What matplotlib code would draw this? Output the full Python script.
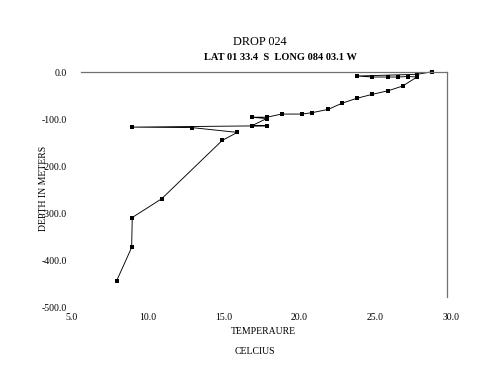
import matplotlib
matplotlib.use("Agg")
import matplotlib.pyplot as plt

# Temperature (deg C) and depth (m) readings, in drop order
temps = [29.0, 27.97, 23.85, 24.9, 25.97, 26.65, 27.33, 27.95, 26.97, 25.99,
         24.9, 23.83, 22.81, 21.89, 20.76, 20.08, 18.71, 17.68, 16.66, 17.68,
         16.66, 17.68, 8.46, 12.56, 15.68, 14.65, 10.51, 8.50, 8.46, 7.44]
depths = [0, -5.8, -9.6, -11.8, -11.8, -11.8, -10.7, -11.8, -31.8, -42.2,
          -50.2, -59.1, -70.2, -83.6, -91.1, -94, -94, -101, -101, -104,
          -120, -120, -123, -124, -134.7, -152.4, -282, -323.6, -390, -463.6]

x_ticks = [5, 10, 15, 20, 25, 30]
y_ticks = [0, -100, -200, -300, -400, -500]
x_tick_labels = ["5.0", "10.0", "15.0", "20.0", "25.0", "30.0"]
y_tick_labels = ["0.0", "-100.0", "-200.0", "-300.0", "-400.0", "-500.0"]

title = "DROP 024"
subtitle = "LAT 01 33.4  S  LONG 084 03.1 W"
xlabel1 = "TEMPERAURE"
xlabel2 = "CELCIUS"
ylabel = "DEPTH IN METERS"

plt.rcParams['font.family'] = ['Liberation Serif', 'DejaVu Serif']

W, H = 500, 386
fig = plt.figure(figsize=(W / 100, H / 100), dpi=100)

def rect(x0, y0, x1, y1):
    return [x0 / W, 1 - y1 / H, (x1 - x0) / W, (y1 - y0) / H]

# Axes holding tick labels (placed where the reference draws them)
lab = fig.add_axes(rect(71.5, 72.5, 451, 307.5))
lab.set_xlim(5, 30)
lab.set_ylim(-500, 0)
lab.set_xticks(x_ticks)
lab.set_xticklabels(x_tick_labels)
lab.set_yticks(y_ticks)
lab.set_yticklabels(y_tick_labels)
lab.tick_params(length=0, labelsize=7, pad=3.3)
lab.tick_params(axis='x', pad=4.0)
for s in lab.spines.values():
    s.set_visible(False)
lab.patch.set_alpha(0)

# Data axes
ax = fig.add_axes(rect(81, 71.7, 447, 297))
ax.set_xlim(5, 30)
ax.set_ylim(-500, 0)
ax.set_xticks([])
ax.set_yticks([])
ax.spines['left'].set_visible(False)
ax.spines['bottom'].set_visible(False)
for side in ('top', 'right'):
    ax.spines[side].set_color('#707070')
    ax.spines[side].set_linewidth(0.9)
ax.patch.set_alpha(0)

ax.plot(temps, depths, color='black', linewidth=0.65, marker='s',
        markersize=2.2, markerfacecolor='black', markeredgewidth=0,
        clip_on=False)

fig.text(260 / W, 1 - 42 / H, title, ha='center', va='center', fontsize=8.8)
fig.text(280 / W, 1 - 58 / H, subtitle, ha='center', va='center',
         fontsize=7.5, fontweight='bold')
fig.text(263 / W, 1 - 331 / H, xlabel1, ha='center', va='center', fontsize=7)
fig.text(255 / W, 1 - 351 / H, xlabel2, ha='center', va='center', fontsize=7)
fig.text(44 / W, 1 - 188 / H, ylabel, ha='center', va='center', fontsize=7,
         rotation=90)

fig.savefig("out.png", dpi=100)
